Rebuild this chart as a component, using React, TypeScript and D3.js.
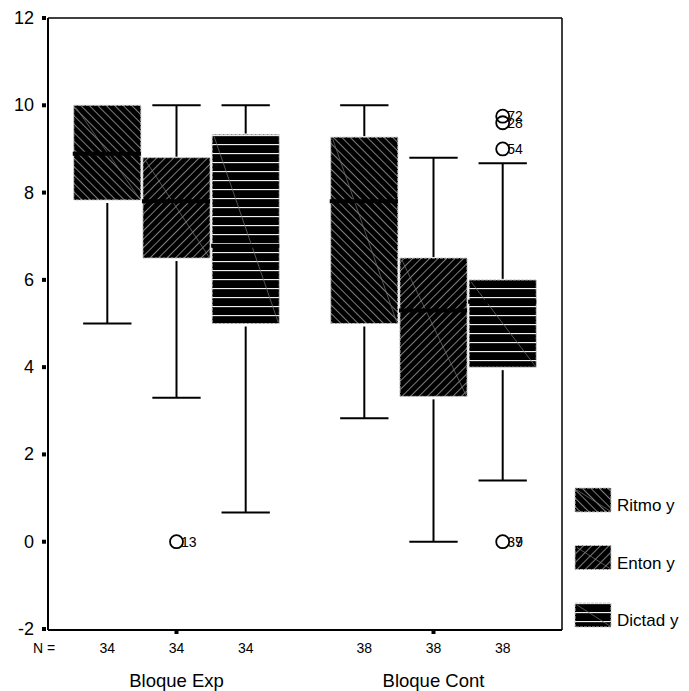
import React from "react";
import * as d3 from "d3";

const groups = ["Bloque Exp", "Bloque Cont"];
const series = ["Ritmo y", "Enton y", "Dictad y"];
const counts = [
  [34, 34, 34],
  [38, 38, 38],
];
// [lower whisker, Q1, median, Q3, upper whisker]
const expStats = [
  [5, 7.83, 8.89, 10, 10],
  [3.3, 6.5, 7.8, 8.8, 10],
  [0.67, 5, 6.78, 9.33, 10],
];
const contStats = [
  [2.83, 5, 7.8, 9.27, 10],
  [0, 3.33, 5.3, 6.5, 8.8],
  [1.4, 4, 5.5, 6, 8.67],
];
const outlierGroup = [0, 1, 1, 1, 1, 1];
const outlierSeries = [1, 2, 2, 2, 2, 2];
const outlierValue = [0, 9.75, 9.6, 9.0, 0, 0];
const outlierLabel = ["13", "72", "28", "54", "37", "9"];
const yTicks = [-2, 0, 2, 4, 6, 8, 10, 12];

const W = 689;
const H = 691;
const frame = { left: 48, right: 562, top: 18, bottom: 630 };
const FONT = "'Liberation Sans', Arial, sans-serif";
const patternIds = ["patR", "patE", "patD"];

export default function App() {
  const y = d3.scaleLinear().domain([-2, 12]).range([629, 18]);
  const xg = d3.scalePoint().domain(groups).range([frame.left, frame.right]).padding(0.5);
  const xs = d3.scaleBand().domain(series).range([-102.75, 102.75]).paddingInner(0.03).paddingOuter(0);
  const bw = xs.bandwidth();
  const allStats = [expStats, contStats];

  const boxes: any[] = [];
  groups.forEach((g, gi) => {
    series.forEach((s, si) => {
      const [lo, q1, med, q3, hi] = allStats[gi][si];
      const x0 = (xg(g) as number) + (xs(s) as number);
      const cx = x0 + bw / 2;
      const capW = bw * 0.72;
      boxes.push(
        <g key={g + s}>
          {hi > q3 && <line x1={cx} x2={cx} y1={y(hi)} y2={y(q3) - 1} stroke="#000" strokeWidth={2} />}
          {hi > q3 && <line x1={cx - capW / 2} x2={cx + capW / 2} y1={y(hi)} y2={y(hi)} stroke="#000" strokeWidth={2} />}
          <line x1={cx} x2={cx} y1={y(q1) + 3} y2={y(lo)} stroke="#000" strokeWidth={2} />
          <line x1={cx - capW / 2} x2={cx + capW / 2} y1={y(lo)} y2={y(lo)} stroke="#000" strokeWidth={2} />
          <rect x={x0} y={y(q3)} width={bw} height={y(q1) - y(q3)} fill={`url(#${patternIds[si]})`} stroke="#c8c8c8" strokeWidth={1} strokeDasharray="3 1" />
          <line x1={x0 + 2} y1={y(q3) + 2} x2={x0 + bw - 1} y2={y(q1) - 1} stroke="#777" strokeWidth={0.7} />
          <line x1={x0 - 1} x2={x0 + bw} y1={y(med)} y2={y(med)} stroke="#000" strokeWidth={4} />
        </g>
      );
    });
  });

  const outliers = outlierValue.map((v, i) => {
    const g = groups[outlierGroup[i]];
    const s = series[outlierSeries[i]];
    const cx = (xg(g) as number) + (xs(s) as number) + bw / 2;
    const cy = y(v);
    const isOverlap = outlierLabel[i] === "9";
    return (
      <g key={"o" + i}>
        {!isOverlap && <circle cx={cx} cy={cy} r={6.5} fill="none" stroke="#000" strokeWidth={1.8} />}
        <text x={cx + (isOverlap ? 12.5 : 4.5)} y={cy + 5} fontSize={14} fontFamily={FONT} fill="#000">
          {outlierLabel[i]}
        </text>
      </g>
    );
  });

  return (
    <svg width={W} height={H} style={{ position: "absolute", left: 0, top: 0, background: "#fff" }}>
      <defs>
        <pattern id="patR" patternUnits="userSpaceOnUse" width={6} height={6} patternTransform="rotate(-45)">
          <rect width={6} height={6} fill="#000" />
          <line x1={0} y1={0} x2={0} y2={6} stroke="#e6e6e6" strokeWidth={1.1} />
        </pattern>
        <pattern id="patE" patternUnits="userSpaceOnUse" width={6} height={6} patternTransform="rotate(45)">
          <rect width={6} height={6} fill="#000" />
          <line x1={0} y1={0} x2={0} y2={6} stroke="#e6e6e6" strokeWidth={1.1} />
        </pattern>
        <pattern id="patD" patternUnits="userSpaceOnUse" width={9} height={9}>
          <rect width={9} height={9} fill="#000" />
          <line x1={0} y1={0.5} x2={9} y2={0.5} stroke="#eeeeee" strokeWidth={1.3} />
        </pattern>
      </defs>

      {/* frame */}
      <line x1={frame.left} x2={frame.right} y1={frame.top} y2={frame.top} stroke="#000" strokeWidth={1.5} />
      <line x1={frame.right} x2={frame.right} y1={frame.top} y2={frame.bottom} stroke="#000" strokeWidth={1.5} />
      <line x1={frame.left} x2={frame.right} y1={frame.bottom} y2={frame.bottom} stroke="#000" strokeWidth={2} />
      <line x1={frame.left} x2={frame.left} y1={frame.top} y2={frame.bottom} stroke="#000" strokeWidth={2} />

      {/* y ticks */}
      {yTicks.map((t) => (
        <g key={"t" + t}>
          <rect x={42} y={y(t) - 2} width={4} height={4} fill="#000" />
          <text x={34} y={y(t) + 6} textAnchor="end" fontSize={18} fontFamily={FONT} fill="#000">
            {t}
          </text>
        </g>
      ))}

      {/* x ticks */}
      {groups.map((g) => (
        <rect key={"xt" + g} x={(xg(g) as number) - 2} y={frame.bottom} width={4} height={4} fill="#000" />
      ))}

      {boxes}
      {outliers}

      {/* N labels */}
      <text x={33} y={653} fontSize={14} fontFamily={FONT} fill="#000">N =</text>
      {groups.map((g, gi) =>
        series.map((s, si) => (
          <text key={"n" + g + s} x={(xg(g) as number) + (xs(s) as number) + bw / 2} y={653} textAnchor="middle" fontSize={14} fontFamily={FONT} fill="#000">
            {counts[gi][si]}
          </text>
        ))
      )}

      {/* group labels */}
      {groups.map((g) => (
        <text key={"gl" + g} x={xg(g) as number} y={687} textAnchor="middle" fontSize={18.5} fontFamily={FONT} fill="#000">
          {g}
        </text>
      ))}

      {/* legend */}
      {series.map((s, i) => {
        const top = 488 + i * 57.5;
        return (
          <g key={"l" + s}>
            <rect x={575} y={top} width={36} height={24} fill={`url(#${patternIds[i]})`} stroke="#c8c8c8" strokeWidth={1} strokeDasharray="3 1" />
            <line x1={577} y1={top + 2} x2={610} y2={top + 23} stroke="#777" strokeWidth={0.7} />
            <text x={617} y={top + 23} fontSize={17} fontFamily={FONT} fill="#000">
              {s}
            </text>
          </g>
        );
      })}
    </svg>
  );
}
